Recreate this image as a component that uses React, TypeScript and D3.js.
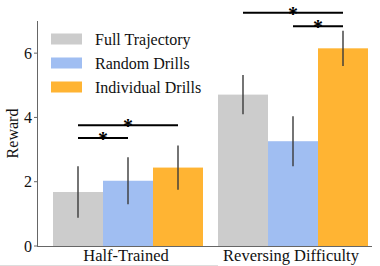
import React from 'react';
import { scaleBand, scaleLinear } from 'd3';

const groups = ['Half-Trained', 'Reversing Difficulty'];
const seriesNames = ['Full Trajectory', 'Random Drills', 'Individual Drills'];
const seriesColors = ['#cccccc', '#a0bef2', '#ffb433'];

// mean reward per group
const fullTrajectory = [1.68, 4.71];
const randomDrills = [2.03, 3.26];
const individualDrills = [2.44, 6.15];
// half width of error bars
const fullTrajectoryErr = [0.8, 0.61];
const randomDrillsErr = [0.73, 0.78];
const individualDrillsErr = [0.69, 0.55];

const yTicks = [0, 2, 4, 6];

// significance brackets: group index, from series, to series, height
const sigGroup = [0, 0, 1, 1];
const sigFrom = [0, 0, 0, 1];
const sigTo = [2, 1, 2, 2];
const sigLevel = [3.76, 3.36, 7.26, 6.84];

const W = 380, H = 266;
const font = '"Liberation Serif", "Times New Roman", serif';

export default function App() {
  const means = [fullTrajectory, randomDrills, individualDrills];
  const errs = [fullTrajectoryErr, randomDrillsErr, individualDrillsErr];

  const x0 = scaleBand<string>().domain(groups).range([53, 368]).paddingInner(0.0909).paddingOuter(0);
  const x1 = scaleBand<string>().domain(seriesNames).range([0, x0.bandwidth()]);
  const y = scaleLinear().domain([0, 7]).range([246, 21]);

  const cx = (g: number, s: number) => (x0(groups[g]) as number) + (x1(seriesNames[s]) as number) + x1.bandwidth() / 2;

  return (
    <svg width={W} height={H} style={{ position: 'absolute', left: 0, top: 0, background: '#fff' }} fontFamily={font}>
      {/* bars */}
      {groups.map((g, gi) =>
        seriesNames.map((s, si) => (
          <rect key={g + s} x={(x0(g) as number) + (x1(s) as number)} width={x1.bandwidth()}
            y={y(means[si][gi])} height={y(0) - y(means[si][gi])} fill={seriesColors[si]} />
        ))
      )}
      {/* error bars */}
      {groups.map((g, gi) =>
        seriesNames.map((s, si) => (
          <line key={'e' + g + s} x1={cx(gi, si)} x2={cx(gi, si)}
            y1={y(means[si][gi] - errs[si][gi])} y2={y(means[si][gi] + errs[si][gi])}
            stroke="#3a3a3a" strokeWidth={1.4} />
        ))
      )}
      {/* axes */}
      <line x1={37.5} x2={37.5} y1={y(7)} y2={y(0)} stroke="#666" strokeWidth={1} />
      <line x1={37} x2={372} y1={y(0) + 0.5} y2={y(0) + 0.5} stroke="#666" strokeWidth={1} />
      {yTicks.map(t => (
        <g key={t}>
          <line x1={34} x2={37} y1={y(t)} y2={y(t)} stroke="#666" />
          <text x={32} y={y(t)} dy="0.35em" textAnchor="end" fontSize={16} fill="#111">{t}</text>
        </g>
      ))}
      <text transform={`translate(18,${(y(0) + y(7)) / 2}) rotate(-90)`} textAnchor="middle" fontSize={16} fill="#111">Reward</text>
      {groups.map(g => (
        <text key={g} x={(x0(g) as number) + x0.bandwidth() / 2 - 2} y={261} textAnchor="middle" fontSize={16.5} fill="#111">{g}</text>
      ))}
      <line x1={0} x2={218} y1={265.5} y2={265.5} stroke="#ddd" />
      {/* significance */}
      {sigGroup.map((g, i) => {
        const a = cx(g, sigFrom[i]), b = cx(g, sigTo[i]);
        return (
          <g key={'s' + i}>
            <line x1={a} x2={b} y1={y(sigLevel[i])} y2={y(sigLevel[i])} stroke="#000" strokeWidth={2} />
            <text x={(a + b) / 2} y={y(sigLevel[i]) + 8} textAnchor="middle" fontSize={20} fontWeight="bold" fill="#000">*</text>
          </g>
        );
      })}
      {/* legend */}
      {seriesNames.map((s, i) => (
        <g key={'l' + s} transform={`translate(51,${39 + i * 24})`}>
          <rect x={0} y={-5.5} width={31} height={11} fill={seriesColors[i]} />
          <text x={44} y={0} dy="0.35em" fontSize={16} fill="#111">{s}</text>
        </g>
      ))}
    </svg>
  );
}
